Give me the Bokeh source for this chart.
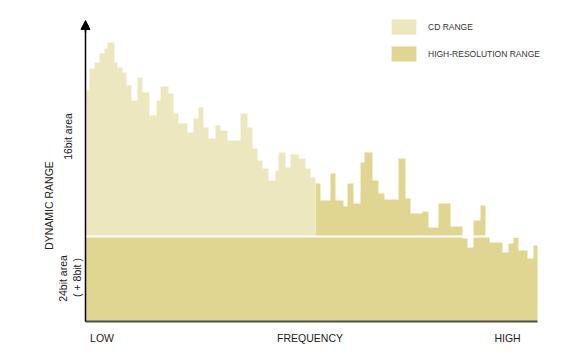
import numpy as np
from bokeh.plotting import figure
from bokeh.models import (Range1d, Label, Legend, LegendItem, Arrow, NormalHead)
from bokeh.core.properties import value
from bokeh.embed import file_html
from bokeh.resources import INLINE

# ---- data ----
freq_edges = [0, 4, 9, 14, 19, 22, 29, 32, 37, 41, 46, 52, 57, 64, 71, 75, 83, 88, 93, 102,
              108, 113, 118, 123, 130, 135, 142, 155, 162, 167, 172, 177, 183, 190, 193, 200,
              205, 213, 220, 225, 230, 235, 245, 250, 258, 262, 268, 275, 279, 287, 293, 299,
              313, 320, 325, 337, 343, 353, 365, 377, 382, 388, 395, 400, 404, 417, 423, 428,
              433, 442, 448, 452]
levels = [231, 253, 259, 268, 273, 279, 259, 254, 249, 236, 221, 244, 229, 206, 221, 235, 228,
          208, 198, 189, 203, 214, 194, 183, 196, 191, 181, 208, 194, 173, 161, 153, 141, 151,
          169, 154, 167, 163, 153, 144, 138, 121, 148, 121, 115, 138, 118, 159, 169, 141, 128,
          122, 163, 123, 108, 110, 94, 118, 95, 83, 74, 101, 116, 85, 79, 69, 78, 84, 71, 63, 76]
band_level = 85          # top of the 24bit (+8bit) area
cd_limit = 230           # frequency where the CD range ends
freq_max = 452
range_max = 301
x_tick_pos = [16.5, 224.5, 422]
x_tick_labels = ["LOW", "FREQUENCY", "HIGH"]
legend_labels = ["CD RANGE", "HIGH-RESOLUTION RANGE"]

LIGHT = "#EDE7C0"
DARK = "#E0D692"
FONT = "Liberation Sans"
TXT = "#222222"

edges = np.array(freq_edges, dtype=float)
lev = np.array(levels, dtype=float)
in_hr = edges[:-1] >= cd_limit


def step_outline(e, tops, base):
    xs, ys = [e[0]], [base]
    for i, t in enumerate(tops):
        xs += [e[i], e[i + 1]]
        ys += [t, t]
    xs.append(e[-1])
    ys.append(base)
    return xs, ys


dark_tops = np.where(in_hr, lev, np.minimum(lev, band_level))
dx, dy = step_outline(edges, dark_tops, 0)
n_cd = int((~in_hr).sum())
lx, ly = step_outline(edges[:n_cd + 1], lev[:n_cd], band_level)

p = figure(width=580, height=360, output_backend="svg", toolbar_location=None,
           x_range=Range1d(-85, 495), y_range=Range1d(-39, 321),
           x_axis_type=None, y_axis_type=None,
           min_border=0, min_border_left=0, min_border_right=0,
           min_border_top=0, min_border_bottom=0)
p.grid.visible = False
p.outline_line_color = None
p.background_fill_color = "white"
p.border_fill_color = "white"

dark_r = p.patch(dx, dy, fill_color=DARK, line_color=None)
light_r = p.patch(lx, ly, fill_color=LIGHT, line_color=None)
p.segment(x0=[0], y0=[band_level], x1=[freq_max], y1=[band_level], line_color="white",
          line_width=2)

# axis lines
p.segment(x0=[0], y0=[0], x1=[freq_max], y1=[0], line_color="#4d4d4d", line_width=2)
p.segment(x0=[0], y0=[0], x1=[0], y1=[range_max - 4], line_color="black", line_width=1.5)
p.add_layout(Arrow(end=NormalHead(size=9, fill_color="black", line_color="black"),
                   x_start=0, y_start=range_max - 12, x_end=0, y_end=range_max,
                   line_color="black", line_width=1.5))

# x labels
p.text(x=x_tick_pos, y=[-16] * len(x_tick_pos), text=x_tick_labels,
       text_align="center", text_baseline="middle", text_font=value(FONT),
       text_font_size="10.5px", text_color=TXT)


def vlabel(x, y, txt):
    p.add_layout(Label(x=x, y=y, text=txt, angle=np.pi / 2, text_align="center",
                       text_baseline="middle", text_font=FONT, text_font_size="10.5px",
                       text_color=TXT))


vlabel(-37, 116, "DYNAMIC RANGE")
vlabel(-17.5, 185, "16bit area")
vlabel(-22.5, 43, "24bit area")
vlabel(-9, 44, "( + 8bit )")

legend = Legend(items=[LegendItem(label=legend_labels[0], renderers=[light_r]),
                       LegendItem(label=legend_labels[1], renderers=[dark_r])],
                location=(388, 297), glyph_width=31, glyph_height=19, label_height=19,
                spacing=8, padding=0, margin=0, label_standoff=9,
                label_text_font=FONT, label_text_font_size="8.5px",
                label_text_color="#333333", border_line_color=None,
                background_fill_alpha=0)
p.add_layout(legend)

open("out.html", "w").write(file_html(p, INLINE))
